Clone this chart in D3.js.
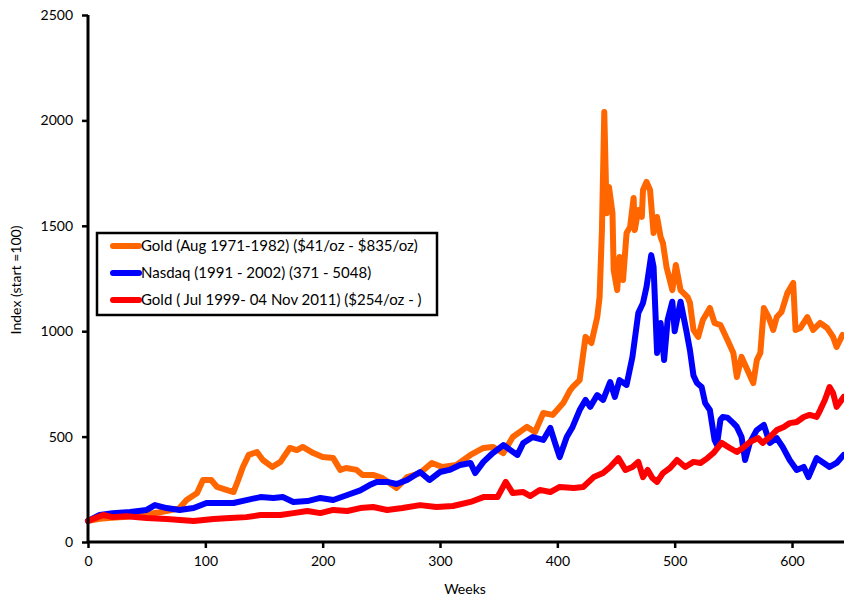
<!DOCTYPE html>
<html><head><meta charset="utf-8">
<script src="https://cdn.jsdelivr.net/npm/d3@7"></script>
<style>body{margin:0;background:#fff}svg{display:block;font-family:Lato,"Open Sans",sans-serif}</style>
</head><body><svg id="c" width="844" height="599"></svg>
<script>
const seriesNames = ["Gold (Aug 1971-1982) ($41/oz - $835/oz)", "Nasdaq (1991 - 2002) (371 - 5048)", "Gold ( Jul 1999- 04 Nov 2011) ($254/oz - )"];
const seriesColors = ["#ff6600", "#0000ff", "#ff0000"];
const xTicks = [0,100,200,300,400,500,600];
const yTicks = [0,500,1000,1500,2000,2500];

const goldWeeks = [0,10,20,30,40,50,60,70,78,84,93,98,105,110,118,124,128,132,137,144,149,157,164,172,178,183,192,200,209,215,220,229,234,243,251,263,272,283,293,302,314,326,337,345,354,362,374,381,388,396,405,411,413,419,424,429,434,436,438,440,442,444,447,448,451,453,456,459,462,465,466,469,472,473,476,479,482,485,488,490,493,498,501,505,511,513,516,520,524,530,534,539,545,550,553,557,562,567,570,573,576,580,584,587,591,596,601,603,607,613,618,624,630,635,638,643];
const goldValues = [100,110,115,118,125,132,140,150,161,199,232,294,294,261,247,237,294,356,413,427,389,356,380,446,436,451,422,403,398,342,351,342,318,318,303,256,308,327,375,356,365,413,446,451,422,498,546,522,612,603,659,721,735,768,973,944,1067,1162,1480,2040,1560,1684,1560,1290,1195,1352,1243,1466,1494,1632,1480,1575,1542,1670,1708,1670,1466,1542,1447,1418,1305,1195,1314,1195,1162,1134,1006,973,1053,1110,1039,1029,958,897,783,878,816,754,863,897,1110,1067,1006,1067,1091,1181,1229,1006,1015,1067,1006,1039,1015,973,925,982];

const nasdaqWeeks = [0,10,21,36,50,57,67,78,90,101,112,124,135,147,158,166,175,187,198,209,221,232,240,246,255,263,272,283,291,300,308,317,326,330,337,345,354,360,366,371,379,388,394,398,402,408,413,419,424,428,434,439,445,449,453,459,464,469,473,476,480,482,485,488,491,494,498,500,505,510,513,516,519,523,526,530,534,536,539,541,545,550,553,557,560,564,570,576,581,587,592,598,604,610,614,621,627,632,638,644];
const nasdaqValues = [100,128,137,142,152,175,161,152,161,185,185,185,199,213,209,213,190,194,209,199,223,245,270,285,285,275,294,332,294,332,342,365,375,327,380,422,460,436,413,470,498,484,541,470,403,498,546,626,674,641,697,674,759,688,768,745,878,1086,1134,1210,1361,1305,897,1039,863,1053,1140,1000,1140,1000,910,790,754,735,659,626,484,460,580,593,590,564,546,498,389,470,531,555,470,493,451,389,342,356,308,398,375,356,375,413];

const gold2Weeks = [0,13,21,33,50,67,90,107,121,135,147,164,175,187,198,209,221,232,243,255,268,283,297,311,326,337,349,356,362,371,377,385,394,402,414,422,431,439,445,452,458,464,469,473,477,481,485,490,496,502,509,516,522,528,533,540,547,553,558,564,571,575,581,587,593,598,604,610,615,621,624,628,632,635,638,644];
const gold2Values = [100,128,118,122,114,109,100,109,114,118,128,128,137,147,137,152,147,161,166,152,161,175,166,171,190,213,213,285,232,237,218,247,237,261,256,261,308,327,356,398,342,356,380,308,342,304,285,327,351,389,356,380,375,398,422,470,446,427,446,474,493,470,498,531,546,564,569,593,603,593,626,674,735,707,641,688];

const svg = d3.select("#c");
const x = d3.scaleLinear().domain([0, 644.3]).range([88, 844]);
const y = d3.scaleLinear().domain([0, 2500]).range([542, 15]);

const line = d3.line().x(d => x(d[0])).y(d => y(d[1])).curve(d3.curveLinear);
const data = [d3.zip(goldWeeks, goldValues), d3.zip(nasdaqWeeks, nasdaqValues), d3.zip(gold2Weeks, gold2Values)];

svg.append("g").selectAll("path").data(data).join("path")
  .attr("d", line).attr("fill","none")
  .attr("stroke", (d,i) => seriesColors[i]).attr("stroke-width", 6)
  .attr("stroke-linejoin","round").attr("stroke-linecap","round");

// axes
const yAxis = svg.append("g").attr("transform","translate(88,0)")
  .call(d3.axisLeft(y).tickValues(yTicks).tickSize(6).tickPadding(9).tickFormat(d3.format("d")));
const xAxis = svg.append("g").attr("transform","translate(0,542)")
  .call(d3.axisBottom(x).tickValues(xTicks).tickSize(6).tickPadding(8).tickFormat(d3.format("d")));
[yAxis, xAxis].forEach(g => {
  g.select(".domain").attr("stroke","#000").attr("stroke-width",3);
  g.selectAll(".tick line").attr("stroke","#000").attr("stroke-width",2.5);
  g.selectAll(".tick text").attr("fill","#000").style("font-size","14px").style("font-family","Lato");
});
yAxis.select(".domain").attr("d","M0,15V542");
xAxis.select(".domain").attr("d","M88,0H844");

svg.append("text").attr("transform","translate(21,280) rotate(-90)")
  .attr("text-anchor","middle").style("font-size","14px").text("Index (start =100)");
svg.append("text").attr("x",465).attr("y",594).attr("text-anchor","middle")
  .style("font-size","14px").text("Weeks");

// legend
const lg = svg.append("g");
lg.append("rect").attr("x",97).attr("y",233).attr("width",340).attr("height",82)
  .attr("fill","#fff").attr("stroke","#000").attr("stroke-width",2.5);
seriesNames.forEach((n,i) => {
  const cy = 246 + i*27;
  lg.append("line").attr("x1",113).attr("x2",139).attr("y1",cy).attr("y2",cy)
    .attr("stroke",seriesColors[i]).attr("stroke-width",6).attr("stroke-linecap","round");
  lg.append("text").attr("x",141).attr("y",cy+5).style("font-size","15px").text(n);
});
</script></body></html>
